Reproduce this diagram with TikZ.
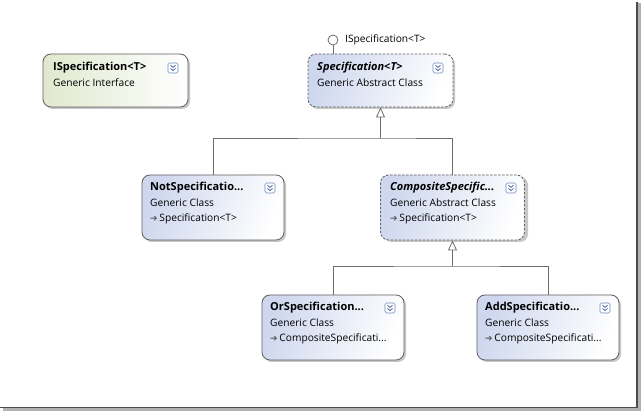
\documentclass[tikz,border=0pt]{standalone}
\usepackage{fontspec}
\setmainfont{Open Sans}
\newfontfamily\symfont{DejaVu Sans}
\usetikzlibrary{arrows.meta,calc}
\definecolor{boxline}{RGB}{95,95,95}
\definecolor{connline}{RGB}{110,110,100}
\definecolor{bluefill}{RGB}{206,215,238}
\definecolor{greenfill}{RGB}{224,233,206}
\definecolor{iconblue}{RGB}{110,140,190}
\definecolor{chev}{RGB}{60,90,160}
\tikzset{
  classbox/.style={draw=boxline, line width=0.8pt, rounded corners=8pt,
    minimum width=144pt, inner sep=0pt, left color=bluefill, right color=white,
    shading angle=70},
  ifacebox/.style={classbox, left color=greenfill, right color=white},
  abstract/.style={dash pattern=on 2.5pt off 1.5pt},
  boxshadow/.style={fill=black!22, rounded corners=8pt},
  ttl/.style={anchor=west, inner sep=0pt, font=\fontsize{11}{12}\selectfont\bfseries},
  sub/.style={anchor=west, inner sep=0pt, font=\fontsize{10.2}{11}\selectfont},
  conn/.style={draw=connline, line width=0.8pt},
  inh/.style={conn, -{Triangle[open, length=10pt, width=9pt, fill=white]}},
}
\newcommand{\toggleicon}[1]{%
  \draw[iconblue, fill=white, rounded corners=1.5pt, line width=0.6pt]
    ($#1+(-5,-5)$) rectangle ($#1+(5,5)$);
  \draw[chev, line width=0.7pt] ($#1+(-2.5,-2.8)$) -- ($#1+(0,-0.6)$) -- ($#1+(2.5,-2.8)$);
  \draw[chev, line width=0.7pt] ($#1+(-2.5,0.4)$) -- ($#1+(0,2.6)$) -- ($#1+(2.5,0.4)$);
}
\newcommand{\implarrow}{{\symfont\fontsize{9}{9}\selectfont\color{black!65}➔}\,}
\begin{document}
\begin{tikzpicture}[x=1pt, y=-1pt]
\useasboundingbox (0,0) rectangle (641,411);
\fill[white] (0,0) rectangle (641,411);
% frame shadow
\fill[black!30] (638,3) rectangle (641,410);
\fill[black!30] (3,408) rectangle (641,411);
\draw[black!70, line width=1.4pt] (637,2) -- (637,407.3) -- (0,407.3);

% shadows
\fill[boxshadow] (45,56) rectangle (190,109);
\fill[boxshadow] (310,56) rectangle (455,109);
\fill[boxshadow] (144,177) rectangle (286,242);
\fill[boxshadow] (384,177) rectangle (528,242);
\fill[boxshadow] (264,297) rectangle (406,362);
\fill[boxshadow] (479,297) rectangle (621,362);

% boxes
\node[ifacebox, minimum width=145pt, minimum height=53pt] (ispec) at (115.5,80.5) {};
\node[classbox, abstract, minimum width=145pt, minimum height=53pt] (spec) at (380.5,80.5) {};
\node[classbox, minimum width=142pt, minimum height=65pt] (not) at (213,207.5) {};
\node[classbox, abstract, minimum width=144pt, minimum height=65pt] (comp) at (452.5,207.5) {};
\node[classbox, minimum width=142pt, minimum height=65pt] (or) at (333,327.5) {};
\node[classbox, minimum width=142pt, minimum height=65pt] (add) at (548,327.5) {};

% texts
\node[ttl] (t1) at (53,67.5) {ISpecification<T>};
\node[sub] (s1) at (53,83) {Generic Interface};
\toggleicon{(173,68)}

\node[ttl] (t2) at (317,67.5) {\itshape Specification\normalfont\bfseries <\itshape T\normalfont\bfseries >};
\node[sub] (s2) at (317,83) {Generic Abstract Class};
\toggleicon{(438,68)}

\node[ttl] (t3) at (150,188) {NotSpecificatio...};
\node[sub] (s3) at (150,203) {Generic Class};
\node[sub] (u3) at (150,219) {\implarrow Specification<T>};
\toggleicon{(270,188)}

\node[ttl] (t4) at (390,188) {\itshape CompositeSpecific...};
\node[sub] (s4) at (390,203) {Generic Abstract Class};
\node[sub] (u4) at (390,219) {\implarrow Specification<T>};
\toggleicon{(511,188)}

\node[ttl] (t5) at (270,308) {OrSpecification...};
\node[sub] (s5) at (270,323) {Generic Class};
\node[sub] (u5) at (270,339) {\implarrow CompositeSpecificati...};
\toggleicon{(390,308)}

\node[ttl] (t6) at (485,308) {AddSpecificatio...};
\node[sub] (s6) at (485,323) {Generic Class};
\node[sub] (u6) at (485,339) {\implarrow CompositeSpecificati...};
\toggleicon{(605,308)}

% lollipop
\node[draw=connline, fill=white, circle, minimum size=10pt, inner sep=0pt, line width=0.8pt] (lol) at (333,40) {};
\draw[conn] (lol.south) -- (lol.south |- spec.north);
\node[sub] (lollbl) at (345,40) {ISpecification<T>};

% inheritance
\coordinate (j1) at (380.5,138);
\coordinate (j2) at (452.5,266);
\draw[inh] (j1) -- (spec.south);
\draw[conn] (not.north) |- (j1) -| (comp.north);
\draw[inh] (j2) -- (comp.south);
\draw[conn] (or.north) |- (j2) -| (add.north);
\end{tikzpicture}
\end{document}
